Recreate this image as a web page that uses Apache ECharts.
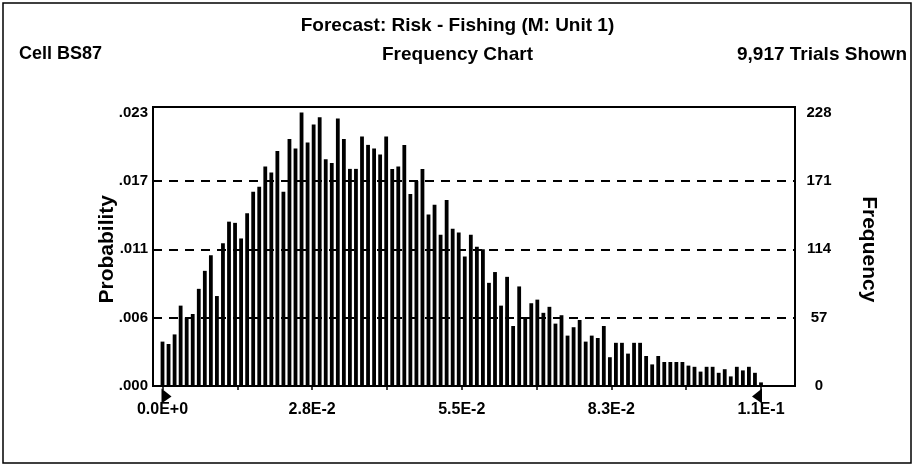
<!DOCTYPE html>
<html><head><meta charset="utf-8">
<script src="https://cdn.jsdelivr.net/npm/echarts@6/dist/echarts.min.js"></script>
<style>html,body{margin:0;padding:0;background:#fff}#c{width:915px;height:467px}</style>
</head><body><div id="c"></div>
<script>
// Frequency counts per bin (100 bins)
const frequencies = [
  37, 35, 43, 67, 57, 60, 81, 96, 109, 75,
  119, 137, 136, 123, 144, 162, 166, 183, 178, 196,
  162, 206, 198, 228, 203, 218, 224, 189, 186, 223,
  206, 181, 181, 208, 201, 198, 193, 208, 181, 183,
  201, 160, 171, 181, 143, 151, 126, 155, 131, 128,
  108, 126, 116, 114, 86, 95, 67, 91, 50, 83,
  57, 69, 72, 61, 66, 52, 59, 42, 49, 55,
  37, 42, 40, 50, 24, 36, 36, 27, 36, 36,
  25, 18, 25, 20, 20, 20, 20, 17, 16, 12,
  16, 16, 11, 14, 8, 16, 13, 16, 11, 3
];
const freqTicks = [0, 57, 114, 171, 228];
const probLabels = ['.000', '.006', '.011', '.017', '.023'];
const xTickValues = [0, 0.0275, 0.055, 0.0825, 0.11];
const xTickLabels = ['0.0E+0', '2.8E-2', '5.5E-2', '8.3E-2', '1.1E-1'];
const certaintyRange = [0, 0.11];
const titleText = 'Forecast: Risk - Fishing (M: Unit 1)';
const leftHeader = 'Cell BS87';
const centerHeader = 'Frequency Chart';
const rightHeader = '9,917 Trials Shown';

const binNames = frequencies.map((_, i) => 'bin' + (i + 1));
const FONT = '"Liberation Sans", Arial, Helvetica, sans-serif';
const txt = (size) => ({ color: '#000', fontWeight: 'bold', fontFamily: FONT, fontSize: size });

const chart = echarts.init(document.getElementById('c'), null, { renderer: 'canvas' });
const fmtY = (arr) => (v) => { const i = freqTicks.indexOf(Math.round(v)); return i >= 0 ? arr[i] : ''; };

chart.setOption({
  animation: false,
  backgroundColor: '#fff',
  title: [
    { text: titleText, left: 'center', top: 11, textStyle: txt(19) },
    { text: leftHeader, left: 14, top: 40, textStyle: txt(18) },
    { text: centerHeader, left: 'center', top: 40, textStyle: txt(19) },
    { text: rightHeader, right: 3, top: 40, textStyle: txt(19) }
  ],
  graphic: [
    { type: 'rect', shape: { x: 3, y: 3, width: 908, height: 460 }, style: { fill: 'none', stroke: '#000', lineWidth: 1.5 }, silent: true, z: -1 }
  ],
  grid: [
    { left: 153, right: 120, top: 107, bottom: 81, show: true, borderColor: '#000', borderWidth: 2, backgroundColor: 'transparent' },
    { left: 153, right: 120, top: 112.5, bottom: 81 },
    { left: 162.5, right: 154, top: 112.5, bottom: 81 }
  ],
  xAxis: [
    { gridIndex: 0, type: 'value', show: false, min: 0, max: 1 },
    { gridIndex: 1, type: 'value', show: false, min: 0, max: 1 },
    { gridIndex: 2, type: 'category', position: 'top', data: binNames, boundaryGap: false, show: false },
    { gridIndex: 2, type: 'value', position: 'bottom', min: xTickValues[0], max: xTickValues[xTickValues.length - 1], interval: xTickValues[1] - xTickValues[0],
      axisLine: { show: false },
      axisTick: { show: true, length: 4, lineStyle: { color: '#000', width: 1.5 } },
      minorTick: { show: true, splitNumber: 2, length: 4, lineStyle: { color: '#000', width: 1.5 } },
      splitLine: { show: false },
      axisLabel: { margin: 16, ...txt(16), formatter: (v) => { let b = 0, d = Infinity; xTickValues.forEach((t, i) => { if (Math.abs(t - v) < d) { d = Math.abs(t - v); b = i; } }); return xTickLabels[b]; } }
    }
  ],
  yAxis: [
    { gridIndex: 0, type: 'value', show: false, min: 0, max: 1 },
    { gridIndex: 1, type: 'value', position: 'left', min: freqTicks[0], max: freqTicks[freqTicks.length - 1], interval: freqTicks[1] - freqTicks[0],
      axisLine: { show: false }, axisTick: { show: false },
      axisLabel: { margin: 5, ...txt(15), formatter: fmtY(probLabels) },
      splitLine: { show: true, showMaxLine: false, showMinLine: false, lineStyle: { color: '#000', width: 2, type: [9, 7] } },
      name: 'Probability', nameLocation: 'middle', nameRotate: 90, nameGap: 35, nameMoveOverlap: false,
      nameTextStyle: txt(21)
    },
    { gridIndex: 1, type: 'value', position: 'right', min: freqTicks[0], max: freqTicks[freqTicks.length - 1], interval: freqTicks[1] - freqTicks[0],
      axisLine: { show: false }, axisTick: { show: false },
      axisLabel: { margin: 24, align: 'center', ...txt(15), formatter: (v) => String(Math.round(v)) },
      splitLine: { show: false },
      name: 'Frequency', nameLocation: 'middle', nameRotate: -90, nameGap: 63, nameMoveOverlap: false,
      nameTextStyle: txt(21)
    },
    { gridIndex: 2, type: 'value', show: false, min: freqTicks[0], max: freqTicks[freqTicks.length - 1] }
  ],
  series: [
    { type: 'bar', xAxisIndex: 2, yAxisIndex: 3, data: frequencies, barWidth: 3.8, clip: false, silent: true,
      itemStyle: { color: '#000' }, z: 3 },
    { type: 'scatter', xAxisIndex: 3, yAxisIndex: 3, clip: false, silent: true, z: 4,
      data: [
        { value: [certaintyRange[0], 0], symbol: 'path://M0,0 L10,8 L0,15 Z', symbolSize: [10, 15], symbolOffset: [4, 10] },
        { value: [certaintyRange[1], 0], symbol: 'path://M10,0 L0,8 L10,15 Z', symbolSize: [10, 15], symbolOffset: [-4, 10] }
      ],
      itemStyle: { color: '#000', opacity: 1 } }
  ]
});
</script>
</body></html>
